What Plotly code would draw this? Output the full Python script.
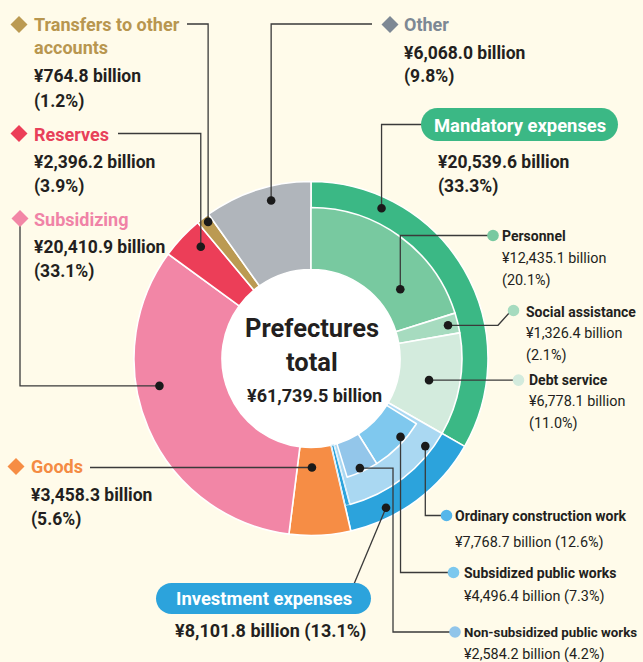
import math
import plotly.graph_objects as go

# ---- data (¥ billion) ----
categories = ["Mandatory expenses", "Investment expenses", "Goods", "Subsidizing",
              "Reserves", "Transfers to other accounts", "Other"]
category_values = [20539.6, 8101.8, 3458.3, 20410.9, 2396.2, 764.8, 6068.0]
category_shares = ["33.3%", "13.1%", "5.6%", "33.1%", "3.9%", "1.2%", "9.8%"]
category_colors = ["#3bb885", "#2ca3dc", "#f68d45", "#f286a6", "#ec3e58", "#bb9a52", "#b0b5bb"]

mandatory_items = ["Personnel", "Social assistance", "Debt service"]
mandatory_values = [12435.1, 1326.4, 6778.1]
mandatory_shares = ["20.1%", "2.1%", "11.0%"]
mandatory_colors = ["#78c9a0", "#a6dbbf", "#d3ebdd"]

construction_item = "Ordinary construction work"
construction_value = 7768.7
construction_share = "12.6%"
construction_color = "#aad8f2"

works_items = ["Subsidized public works", "Non-subsidized public works"]
works_values = [4496.4, 2584.2]
works_shares = ["7.3%", "4.2%"]
works_colors = ["#7fc8ee", "#93c6ea"]

total_label = "¥61,739.5 billion"

# ---- canvas geometry ----
W, H = 643, 662
CX, CY = 311, 358.5
R_OUT, R_MID, R_WORKS, R_HOLE = 177, 151, 124, 89
BG = "#fffbea"
INK = "#231f20"
FONT = "Roboto, Liberation Sans, sans-serif"
CLEAR = "rgba(0,0,0,0)"

# type sizes
T_TITLE, T_VALUE, T_PILL = 18, 17.5, 18.4
T_SUB, T_SUBVAL = 14, 14.4

TOTAL = sum(category_values)


def fx(x):
    return x / W


def fy(y):
    return 1 - y / H


def domain(r):
    return dict(x=[fx(CX - r), fx(CX + r)], y=[fy(CY + r), fy(CY - r)])


def polar(start, value, frac, r):
    """Point inside a slice: start/value in data units, frac across the slice."""
    ang = math.radians(360.0 * (start + frac * value) / TOTAL)
    return CX + r * math.sin(ang), CY - r * math.cos(ang)


cum = [0.0]
for v in category_values:
    cum.append(cum[-1] + v)

fig = go.Figure()

# outer ring: all categories
fig.add_trace(go.Pie(
    values=category_values, labels=categories, sort=False, direction="clockwise",
    rotation=0, hole=R_HOLE / R_OUT, domain=domain(R_OUT),
    marker=dict(colors=category_colors, line=dict(color="white", width=1.6)),
    textinfo="none", hoverinfo="skip", showlegend=False,
))

# middle ring: breakdown of mandatory and investment expenses
inv_rest = category_values[1] - construction_value
mid_values = mandatory_values + [construction_value, inv_rest] + category_values[2:]
mid_colors = mandatory_colors + [construction_color] + [CLEAR] * (1 + len(category_values[2:]))
mid_widths = [1.6] * 4 + [0.8] + [0] * len(category_values[2:])
mid_lines = ["white"] * 4 + ["#cfe9f7"] + ["white"] * len(category_values[2:])
fig.add_trace(go.Pie(
    values=mid_values, sort=False, direction="clockwise", rotation=0,
    hole=R_HOLE / R_MID, domain=domain(R_MID),
    marker=dict(colors=mid_colors, line=dict(color=mid_lines, width=mid_widths)),
    textinfo="none", hoverinfo="skip", showlegend=False,
))

# inner ring: public works inside ordinary construction work (centred)
works_gap = (construction_value - sum(works_values)) / 2
works_start = category_values[0] + works_gap
inner_values = [works_start] + works_values + [TOTAL - works_start - sum(works_values)]
fig.add_trace(go.Pie(
    values=inner_values, sort=False, direction="clockwise", rotation=0,
    hole=R_HOLE / R_WORKS, domain=domain(R_WORKS),
    marker=dict(colors=[CLEAR] + works_colors + [CLEAR],
                line=dict(color="white", width=[0, 1.6, 1.6, 0])),
    textinfo="none", hoverinfo="skip", showlegend=False,
))

shapes = []
annotations = []

# white centre disc
shapes.append(dict(type="circle", xref="paper", yref="paper", layer="below",
                   x0=fx(CX - R_HOLE), x1=fx(CX + R_HOLE), y0=fy(CY + R_HOLE), y1=fy(CY - R_HOLE),
                   fillcolor="white", line=dict(width=0)))


def text(x, y, s, size, color=INK, bold=True, anchor="left"):
    annotations.append(dict(
        x=fx(x), y=fy(y), xref="paper", yref="paper", xanchor=anchor, yanchor="middle",
        text=f"<b>{s}</b>" if bold else s, showarrow=False,
        font=dict(family=FONT, size=size, color=color)))


def leader(points, color="#3a3a3a", width=1.3):
    d = "M " + " L ".join(f"{fx(x)},{fy(y)}" for x, y in points)
    shapes.append(dict(type="path", xref="paper", yref="paper", layer="above", path=d,
                       line=dict(color=color, width=width)))


def dot(x, y, r=4.3, color="#1a1a1a"):
    shapes.append(dict(type="circle", xref="paper", yref="paper", layer="above",
                       x0=fx(x - r), x1=fx(x + r), y0=fy(y + r), y1=fy(y - r),
                       fillcolor=color, line=dict(width=0)))


def diamond(x, y, color, s=8.5):
    pts = [(x, y - s), (x + s, y), (x, y + s), (x - s, y)]
    d = "M " + " L ".join(f"{fx(px)},{fy(py)}" for px, py in pts) + " Z"
    shapes.append(dict(type="path", xref="paper", yref="paper", layer="above", path=d,
                       fillcolor=color, line=dict(width=0)))


def pill(x0, y0, x1, y1, color):
    r = (y1 - y0) / 2
    k = 0.55 * r
    pts = (f"M {fx(x0 + r)},{fy(y0)} L {fx(x1 - r)},{fy(y0)} "
           f"C {fx(x1 - r + k)},{fy(y0)} {fx(x1)},{fy(y0 + r - k)} {fx(x1)},{fy(y0 + r)} "
           f"C {fx(x1)},{fy(y0 + r + k)} {fx(x1 - r + k)},{fy(y1)} {fx(x1 - r)},{fy(y1)} "
           f"L {fx(x0 + r)},{fy(y1)} "
           f"C {fx(x0 + r - k)},{fy(y1)} {fx(x0)},{fy(y0 + r + k)} {fx(x0)},{fy(y0 + r)} "
           f"C {fx(x0)},{fy(y0 + r - k)} {fx(x0 + r - k)},{fy(y0)} {fx(x0 + r)},{fy(y0)} Z")
    shapes.append(dict(type="path", xref="paper", yref="paper", layer="above", path=pts,
                       fillcolor=color, line=dict(width=0)))


def money(v):
    return f"¥{v:,.1f} billion"


# ---- outer categories ----
title_colors = {"Goods": "#f48b43", "Subsidizing": "#f083a7", "Reserves": "#e8405a",
                "Transfers to other accounts": "#b8964f", "Other": "#7d8894"}

# Mandatory expenses
mx, my = polar(cum[0], category_values[0], 0.21, 166)
leader([(mx, my), (mx, 124.5), (425, 124.5)])
dot(mx, my)
pill(421, 108, 618, 141, category_colors[0])
text(519.5, 125, categories[0], T_PILL, "white", anchor="center")
text(436, 162, money(category_values[0]), T_VALUE)
text(436, 186, f"({category_shares[0]})", T_VALUE)

# Investment expenses
ix, iy = polar(cum[1], category_values[1], 0.71, 167)
leader([(ix, iy), (354, 584)])
dot(ix, iy)
pill(156, 583, 371, 614, category_colors[1])
text(263.5, 598.5, categories[1], T_PILL, "white", anchor="center")
text(173, 630.5, f"{money(category_values[1])} ({category_shares[1]})", 18)

# Goods
gx, gy = polar(cum[2], category_values[2], 0.62, 109)
leader([(gx, gy), (90, gy)])
dot(gx, gy)
diamond(16, 466.5, category_colors[2])
text(29, 466.5, categories[2], T_TITLE, title_colors["Goods"])
text(29, 495, money(category_values[2]), T_VALUE)
text(29, 519, f"({category_shares[2]})", T_VALUE)

# Subsidizing
sx, sy = polar(cum[3], category_values[3], 0.61, 154)
leader([(20, 226), (20, sy), (sx, sy)])
dot(sx, sy)
diamond(20, 218.5, category_colors[3])
text(32, 219.5, categories[3], T_TITLE, title_colors["Subsidizing"])
text(32, 247, money(category_values[3]), T_VALUE)
text(32, 271, f"({category_shares[3]})", T_VALUE)

# Reserves
rx, ry = polar(cum[4], category_values[4], 0.66, 157)
leader([(rx, ry), (rx, 133.5), (118, 133.5)])
dot(rx, ry)
diamond(19, 133.5, category_colors[4])
text(32, 134, categories[4], T_TITLE, title_colors["Reserves"])
text(32, 161.5, money(category_values[4]), T_VALUE)
text(32, 186.5, f"({category_shares[4]})", T_VALUE)

# Transfers to other accounts
tx, ty = polar(cum[5], category_values[5], 0.64, 171)
leader([(tx, ty), (tx, 24), (187, 24)])
dot(tx, ty)
diamond(19, 24.5, category_colors[5])
text(32, 24.5, "Transfers to other", T_TITLE, title_colors["Transfers to other accounts"])
text(32, 47.5, "accounts", T_TITLE, title_colors["Transfers to other accounts"])
text(32, 76.5, money(category_values[5]), T_VALUE)
text(32, 101.5, f"({category_shares[5]})", T_VALUE)

# Other
ox, oy = polar(cum[6], category_values[6], 0.60, 163)
leader([(ox, oy), (ox, 24), (372, 24)])
dot(ox, oy)
diamond(390, 24.5, "#7d8894")
text(402, 25, categories[6], T_TITLE, title_colors["Other"])
text(402, 52.5, money(category_values[6]), T_VALUE)
text(402, 77, f"({category_shares[6]})", T_VALUE)

# ---- mandatory breakdown ----
mcum = [0.0]
for v in mandatory_values:
    mcum.append(mcum[-1] + v)

marker_cols = ["#78c9a0", "#a6dbbf", "#d3ebdd"]
# Personnel
px_, py_ = polar(mcum[0], mandatory_values[0], 0.72, 113)
leader([(px_, py_), (px_, 235.5), (490, 235.5)])
dot(px_, py_)
dot(493, 235.5, 5.8, marker_cols[0])
text(500, 236.5, mandatory_items[0], T_SUB)
text(500, 258.5, money(mandatory_values[0]), T_SUBVAL, bold=False)
text(500, 280.5, f"({mandatory_shares[0]})", T_SUBVAL, bold=False)

# Social assistance
qx, qy = polar(mcum[1], mandatory_values[1], 0.5, 141)
leader([(qx, qy), (498, qy), (510, 312)])
dot(qx, qy)
dot(513.5, 310.5, 5.8, marker_cols[1])
text(524, 311.5, mandatory_items[1], T_SUB)
text(524, 333.5, money(mandatory_values[1]), T_SUBVAL, bold=False)
text(524, 355.5, f"({mandatory_shares[1]})", T_SUBVAL, bold=False)

# Debt service
dx_, dy_ = polar(mcum[2], mandatory_values[2], 0.51, 120)
leader([(dx_, dy_), (514, dy_)])
dot(dx_, dy_)
dot(518.5, dy_, 5.8, marker_cols[2])
text(527, 379.5, mandatory_items[2], T_SUB)
text(527, 401.5, money(mandatory_values[2]), T_SUBVAL, bold=False)
text(527, 423.5, f"({mandatory_shares[2]})", T_SUBVAL, bold=False)

# ---- investment breakdown ----
cx_, cy_ = polar(cum[1], construction_value, 0.17, 144)
leader([(cx_, cy_), (cx_, 515.5), (442, 515.5)])
dot(cx_, cy_)
dot(446.5, 515.5, 5.8, "#55b6ea")
text(453, 515.5, construction_item, T_SUB)
text(453, 542.5, f"{money(construction_value)} ({construction_share})", T_SUBVAL, bold=False)

wx, wy = polar(works_start, works_values[0], 0.36, 119)
leader([(wx, wy), (wx, 572.5), (450, 572.5)])
dot(wx, wy)
dot(453.5, 572.5, 5.8, "#7cc8ee")
text(461.5, 573, works_items[0], T_SUB)
text(461.5, 596.5, f"{money(works_values[0])} ({works_shares[0]})", T_SUBVAL, bold=False)

nx, ny = polar(works_start + works_values[0], works_values[1], 0.53, 120)
leader([(nx, ny), (393, ny), (393, 632), (450, 632)])
dot(nx, ny)
dot(455, 632, 5.8, "#91c5ea")
text(462, 632.5, works_items[1], 13.3)
text(462, 654.5, f"{money(works_values[1])} ({works_shares[1]})", T_SUBVAL, bold=False)

# ---- centre ----
text(CX + 1, 328, "Prefectures", 25.5, anchor="center")
text(CX + 1, 362, "total", 25.5, anchor="center")
text(CX + 3, 395, total_label, 18, anchor="center")

fig.update_layout(
    width=W, height=H, margin=dict(l=0, r=0, t=0, b=0),
    paper_bgcolor=BG, plot_bgcolor=BG,
    shapes=shapes, annotations=annotations, showlegend=False,
)

fig.write_html("out.html")
